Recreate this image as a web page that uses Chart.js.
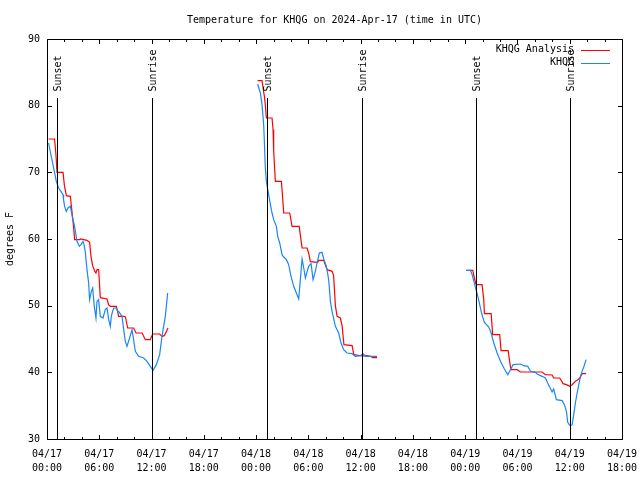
<!DOCTYPE html>
<html><head><meta charset="utf-8">
<script src="https://cdn.jsdelivr.net/npm/chart.js@4.4.0/dist/chart.umd.min.js"></script>
<style>html,body{margin:0;padding:0;background:#fff}#wrap{width:640px;height:480px}</style>
</head><body><div id="wrap"><canvas id="c" width="640" height="480"></canvas></div>
<script>
const titleText = 'Temperature for KHQG on 2024-Apr-17 (time in UTC)';
const yAxisTitle = 'degrees F';
const seriesNames = ['KHQG Analysis', 'KHQG'];
const tickHours = [0, 6, 12, 18, 24, 30, 36, 42, 48, 54, 60, 66];
const tickLabels = [['04/17','00:00'],['04/17','06:00'],['04/17','12:00'],['04/17','18:00'],
  ['04/18','00:00'],['04/18','06:00'],['04/18','12:00'],['04/18','18:00'],
  ['04/19','00:00'],['04/19','06:00'],['04/19','12:00'],['04/19','18:00']];
const yTicks = [30, 40, 50, 60, 70, 80, 90];
const sunHours = [1.2, 12.1, 25.2, 36.1, 49.25, 60.05];
const sunLabels = ['Sunset', 'Sunrise', 'Sunset', 'Sunrise', 'Sunset', 'Sunrise'];

const analysisHours = [
 0.18,0.87,1.03,1.15,1.84,2.0,2.22,2.68,2.76,2.94,3.06,3.17,3.77,3.83,4.59,4.89,5.05,5.24,5.5,5.62,5.74,5.93,6.12,6.89,7.08,7.27,7.96,8.11,8.22,8.8,9.0,9.26,9.94,10.22,10.91,11.29,11.84,12.13,12.92,13.2,13.47,13.89,
 18,
 24.18,24.68,24.8,24.95,25.06,25.18,25.83,25.95,26.02,26.21,26.9,26.98,27.17,27.85,27.93,28.13,28.95,29.16,29.28,29.85,30.03,30.23,31.07,31.18,31.76,32.15,32.72,32.9,33.1,33.3,33.67,33.87,34.08,35.02,35.22,36.17,36.74,37.12,37.4,37.89,
 43,
 48.14,48.87,49.06,49.25,49.94,50.13,50.21,50.98,51.16,51.96,52.12,52.93,53.19,53.27,53.96,54.34,56.83,57.21,57.98,58.16,58.85,59.24,59.62,60.0,60.27,60.65,60.85,61.15,61.42,61.88];
const analysisTemps = [
 75.0,75.0,72.6,70.0,70.0,68.0,66.5,66.4,65.4,63.2,61.7,59.9,59.9,60.0,59.8,59.5,57.4,56.0,55.1,54.9,55.4,55.4,51.2,51.0,50.1,49.9,49.9,49.1,48.4,48.4,48.3,46.65,46.65,45.9,45.9,44.9,44.9,45.75,45.75,45.4,45.5,46.65,
 null,
 83.75,83.75,82.65,81.4,80.15,78.15,78.15,76.4,73.15,68.65,68.65,67.4,63.9,63.9,63.4,61.9,61.9,59.8,58.65,58.65,57.9,56.6,56.5,56.8,56.8,55.4,55.15,54.5,50.0,48.4,48.15,47.0,44.15,44.0,42.65,42.45,42.5,42.4,42.2,42.2,
 null,
 55.3,55.3,54.15,53.15,53.15,50.9,48.8,48.8,45.65,45.65,43.25,43.25,40.9,40.4,40.4,40.05,40.05,39.65,39.6,39.15,39.15,38.3,38.15,37.9,38.15,38.65,38.8,39.15,39.8,39.8];

const obsHours = [
 0.18,1.07,1.33,1.6,1.84,1.9,2.02,2.22,2.41,2.68,2.79,2.94,3.17,3.44,3.71,3.9,4.13,4.25,4.4,4.59,4.78,4.89,5.09,5.24,5.43,5.62,5.74,5.92,6.12,6.43,6.69,6.89,7.08,7.27,7.38,7.53,7.65,7.96,8.11,8.22,8.61,8.8,8.99,9.18,9.48,9.76,9.94,10.14,10.52,11.09,11.48,11.86,12.17,12.55,12.93,13.2,13.58,13.85,
 18,
 24.18,24.49,24.68,24.87,24.95,25.06,25.18,25.44,25.64,25.83,26.02,26.33,26.48,26.71,26.98,27.17,27.48,27.74,28.01,28.32,28.62,28.89,29.08,29.28,29.47,29.66,30.03,30.31,30.54,30.8,31.0,31.26,31.57,31.76,32.07,32.33,32.53,32.72,33.1,33.48,33.75,34.05,34.44,35.02,35.4,35.97,36.28,36.54,37.89,
 43,
 48.14,48.6,48.8,49.0,49.2,49.4,49.59,49.79,49.98,50.21,50.71,50.98,51.28,51.67,52.05,52.5,52.89,53.19,53.5,54.34,54.72,55.18,55.49,56.06,56.26,56.83,57.21,57.47,57.98,58.16,58.47,59.13,59.39,59.62,59.77,60.0,60.27,60.46,60.65,60.85,61.04,61.23,61.42,61.61,61.88];
const obsTemps = [
 74.4,68.65,67.65,67.15,66.65,65.9,64.9,64.15,64.65,64.9,64.15,63.15,61.9,59.65,58.9,59.15,59.65,59.15,58.0,55.4,53.4,50.9,52.15,52.65,49.9,48.15,50.65,50.9,48.4,48.15,49.4,49.65,47.9,46.9,48.4,49.15,49.65,49.65,49.15,49.15,48.4,46.4,44.65,43.9,45.15,46.4,44.9,43.15,42.4,42.15,41.65,40.9,40.3,41.15,42.65,45.4,48.4,51.9,
 null,
 83.25,81.9,80.15,77.15,74.65,70.65,68.65,66.65,65.2,63.9,62.9,61.9,60.4,59.4,57.65,57.3,56.9,56.15,54.4,52.9,51.9,51.0,53.9,57.0,55.65,54.15,55.9,56.3,53.9,55.15,56.4,57.9,58.0,57.0,55.9,53.9,50.65,49.15,46.9,45.9,44.4,43.4,42.9,42.8,42.4,42.5,42.8,42.4,42.4,
 null,
 55.3,55.3,54.65,53.65,52.65,51.65,50.65,49.4,48.4,47.5,46.8,45.9,44.4,42.9,41.65,40.5,39.65,40.4,41.15,41.25,41.0,40.9,40.15,40.0,39.75,39.4,39.15,38.4,37.05,37.5,35.9,35.75,35.15,34.15,32.5,32.05,32.1,33.65,35.4,36.9,38.15,39.4,40.15,40.8,41.9];

const RED = '#ff0000';
const BLUE = '#1a86f5';
const FONT = "'DejaVu Sans Mono', 'Liberation Mono', monospace";

function toPoints(hs, ts) { return hs.map((h, i) => ({ x: h, y: ts[i] })); }

Chart.defaults.font.family = FONT;
Chart.defaults.font.size = 10;
Chart.defaults.color = '#000';

const gnuplotFrame = {
  id: 'gnuplotFrame',
  afterDatasetsDraw(chart) {
    const { ctx, chartArea: a, scales } = chart;
    const xs = scales.x, ys = scales.y;
    const L = Math.round(a.left) + 0.5, R = Math.round(a.right) + 0.5;
    const T = Math.round(a.top) + 0.5, B = Math.round(a.bottom) + 0.5;
    ctx.save();
    ctx.strokeStyle = '#000';
    ctx.lineWidth = 1;
    ctx.beginPath();
    ctx.rect(L, T, R - L, B - T);
    for (let h = xs.min; h <= xs.max + 1e-6; h += 2) {
      const px = Math.round(xs.getPixelForValue(h)) + 0.5;
      const len = tickHours.includes(h) ? 4.5 : 2.5;
      ctx.moveTo(px, B); ctx.lineTo(px, B - len);
      ctx.moveTo(px, T); ctx.lineTo(px, T + len);
    }
    yTicks.forEach(v => {
      const py = Math.round(ys.getPixelForValue(v)) + 0.5;
      ctx.moveTo(L, py); ctx.lineTo(L + 4.5, py);
      ctx.moveTo(R, py); ctx.lineTo(R - 4.5, py);
    });
    ctx.stroke();

    // sunrise / sunset markers
    const lineTop = ys.getPixelForValue(81.15);
    ctx.font = '10px ' + FONT;
    ctx.fillStyle = '#000';
    sunHours.forEach((h, i) => {
      const px = Math.round(xs.getPixelForValue(h)) + 0.5;
      ctx.beginPath();
      ctx.moveTo(px, lineTop); ctx.lineTo(px, B);
      ctx.stroke();
      ctx.save();
      ctx.translate(px + 1, lineTop - 6.5);
      ctx.rotate(-Math.PI / 2);
      ctx.textAlign = 'left';
      ctx.textBaseline = 'middle';
      ctx.fillText(sunLabels[i], 0, 0);
      ctx.restore();
    });

    // gnuplot-style key
    const colors = [RED, BLUE];
    seriesNames.forEach((name, i) => {
      const yy = a.top + 10.5 + i * 13;
      ctx.textAlign = 'right';
      ctx.textBaseline = 'middle';
      ctx.fillStyle = '#000';
      ctx.fillText(name, a.right - 48, yy);
      ctx.strokeStyle = colors[i];
      ctx.beginPath();
      ctx.moveTo(a.right - 41, Math.round(yy) + 0.5);
      ctx.lineTo(a.right - 12, Math.round(yy) + 0.5);
      ctx.stroke();
    });
    ctx.restore();
  }
};

new Chart(document.getElementById('c'), {
  type: 'line',
  data: {
    datasets: [
      { label: seriesNames[0], data: toPoints(analysisHours, analysisTemps), borderColor: RED, borderWidth: 1.2, pointRadius: 0, tension: 0, spanGaps: false, order: 1 },
      { label: seriesNames[1], data: toPoints(obsHours, obsTemps), borderColor: BLUE, borderWidth: 1.2, pointRadius: 0, tension: 0, spanGaps: false, order: 0 }
    ]
  },
  options: {
    responsive: false,
    animation: false,
    layout: { padding: { left: 0, right: 18, top: 0, bottom: 0 } },
    plugins: {
      legend: { display: false },
      tooltip: { enabled: false },
      title: { display: true, text: titleText, fullSize: false, font: { size: 10, weight: 'normal', family: FONT }, color: '#000', padding: { top: 14, bottom: 13 } }
    },
    scales: {
      x: {
        type: 'linear', min: 0, max: 66,
        grid: { display: false, drawTicks: false },
        border: { display: false },
        ticks: {
          stepSize: 6, autoSkip: false, maxRotation: 0, padding: 8,
          font: { size: 10, lineHeight: 1.4 },
          callback: (v) => { const i = tickHours.indexOf(v); return i >= 0 ? tickLabels[i] : ''; }
        },
        afterFit: (s) => { s.height = 41; s.paddingRight = 0; s.paddingLeft = 0; }
      },
      y: {
        min: 30, max: 90,
        grid: { display: false, drawTicks: false },
        border: { display: false },
        ticks: { stepSize: 10, padding: 7, callback: (v) => yTicks.includes(v) ? String(v) : '' },
        title: { display: true, text: yAxisTitle, font: { size: 10 }, padding: { top: 4, bottom: 0 } },
        afterFit: (s) => { s.width = 47; }
      }
    }
  },
  plugins: [gnuplotFrame]
});
</script>
</body></html>
